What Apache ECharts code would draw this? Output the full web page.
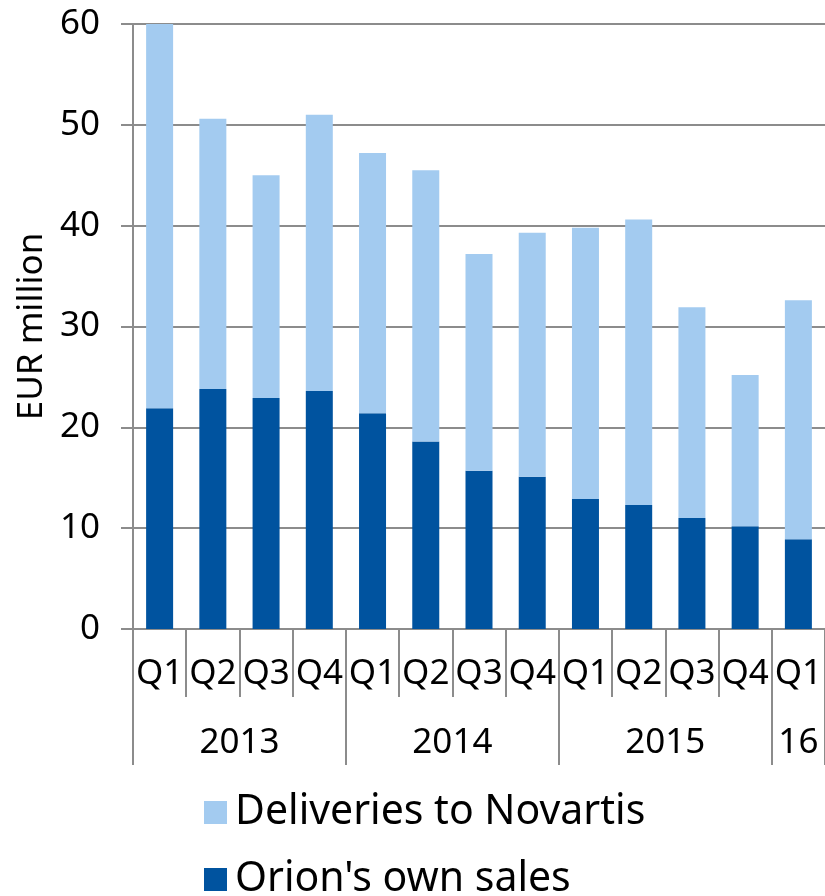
<!DOCTYPE html>
<html>
<head>
<meta charset="utf-8">
<script src="https://cdn.jsdelivr.net/npm/echarts@6/dist/echarts.min.js"></script>
<style>
	html, body { margin: 0; padding: 0; background: #fff; }
	#chart { width: 825px; height: 896px; }
</style>
</head>
<body>
<div id="chart"></div>
<script>
var quarters = ['Q1', 'Q2', 'Q3', 'Q4', 'Q1', 'Q2', 'Q3', 'Q4', 'Q1', 'Q2', 'Q3', 'Q4', 'Q1'];
var years = ['2013', '2014', '2015', '16'];
var yearSpans = [4, 4, 4, 1];
var ownSales = [21.9, 23.8, 22.9, 23.6, 21.4, 18.6, 15.7, 15.1, 12.9, 12.3, 11.0, 10.2, 8.9];
var novartis = [38.2, 26.8, 22.1, 27.4, 25.8, 26.9, 21.5, 24.2, 26.9, 28.3, 20.9, 15.0, 23.7];
var yTicks = [0, 10, 20, 30, 40, 50, 60];

// year boundaries and label centres, counted in quarters
var yearEdges = [0];
var yearMids = [];
yearSpans.forEach(function (n, i) {
	yearMids.push(yearEdges[i] + n / 2);
	yearEdges.push(yearEdges[i] + n);
});

var grey = '#8c8c8c';
var chart = echarts.init(document.getElementById('chart'));

var option = {
	animation: false,
	textStyle: { fontFamily: 'Noto Sans', color: '#000' },
	grid: { left: 133, right: -6, top: 24, bottom: 267, containLabel: false },
	legend: {
		orient: 'vertical',
		left: 204,
		top: 792,
		height: 110,
		padding: 0,
		itemWidth: 23,
		itemHeight: 23,
		itemGap: 26,
		icon: 'rect',
		data: ['Deliveries to Novartis', "Orion's own sales"],
		textStyle: { fontSize: 41, lineHeight: 38, color: '#000', padding: [0, 0, 0, 3] }
	},
	xAxis: [
		{
			type: 'category',
			data: quarters,
			position: 'bottom',
			axisLine: { show: true, lineStyle: { color: grey, width: 2 } },
			axisTick: { show: true, interval: 0, length: 68, lineStyle: { color: grey, width: 2 } },
			axisLabel: { interval: 0, margin: 28, fontSize: 35, color: '#000' }
		},
		{
			type: 'value',
			min: 0,
			max: yearEdges[yearEdges.length - 1],
			position: 'bottom',
			offset: 0,
			axisLine: { show: false },
			splitLine: { show: false },
			axisTick: { show: true, length: 136, customValues: yearEdges, lineStyle: { color: grey, width: 2 } },
			axisLabel: {
				margin: 97,
				fontSize: 35,
				color: '#000',
				customValues: yearMids,
				formatter: function (v) {
					var i = yearMids.indexOf(v);
					return i >= 0 ? years[i] : '';
				}
			}
		}
	],
	yAxis: {
		type: 'value',
		min: yTicks[0],
		max: yTicks[yTicks.length - 1],
		interval: 10,
		name: 'EUR million',
		nameLocation: 'middle',
		nameGap: 73,
		nameTextStyle: { fontSize: 35, color: '#000' },
		axisLine: { show: true, lineStyle: { color: grey, width: 2 } },
		axisTick: { show: true, length: 12, lineStyle: { color: grey, width: 2 } },
		axisLabel: { margin: 33, fontSize: 35, color: '#000' },
		splitLine: { show: true, lineStyle: { color: grey, width: 2 } }
	},
	series: [
		{
			name: "Orion's own sales",
			type: 'bar',
			stack: 'total',
			barWidth: 27,
			data: ownSales,
			itemStyle: { color: '#00539f' }
		},
		{
			name: 'Deliveries to Novartis',
			type: 'bar',
			stack: 'total',
			barWidth: 27,
			data: novartis,
			itemStyle: { color: '#a3cbf0' }
		}
	]
};

chart.setOption(option);
</script>
</body>
</html>
